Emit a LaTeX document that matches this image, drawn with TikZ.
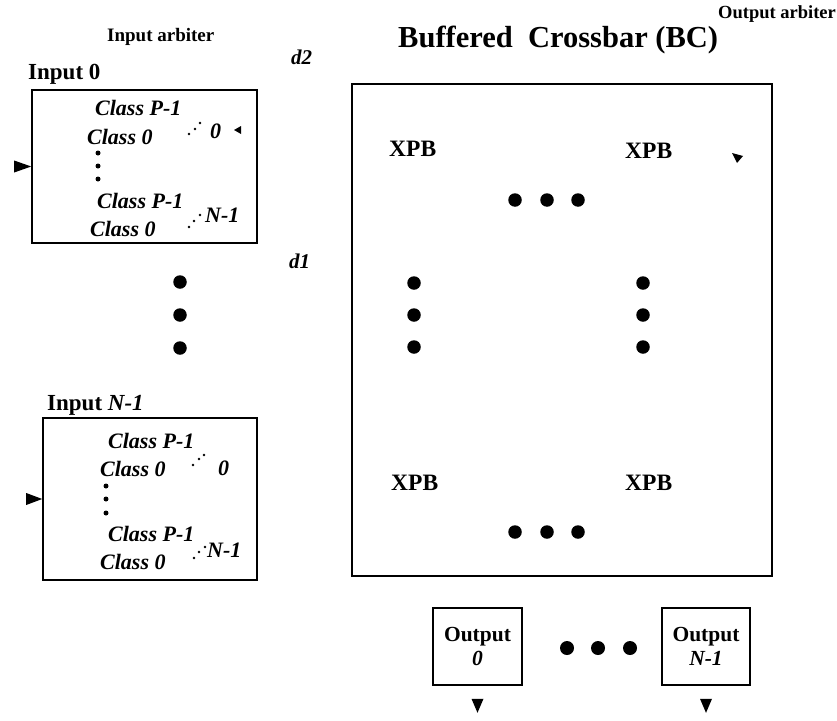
\documentclass[tikz,border=0pt]{standalone}
\usepackage{fontspec}
\setmainfont{Liberation Serif}
\usetikzlibrary{calc}

\tikzset{
  txt/.style={inner sep=0pt, anchor=base west},
  bold/.style={txt, font=\bfseries\fontsize{20}{24}\selectfont},
  bital/.style={txt, font=\bfseries\itshape\fontsize{22}{26}\selectfont},
  xpb/.style={txt, font=\bfseries\fontsize{23.5}{27}\selectfont},
  frame/.style={draw, line width=1.6pt, inner sep=0pt},
  bigdot/.style={circle, fill, inner sep=0pt, minimum size=13.5pt},
  smalldot/.style={circle, fill, inner sep=0pt, minimum size=5pt},
  tinydot/.style={circle, fill, inner sep=0pt, minimum size=2.6pt},
  outbox/.style={frame, minimum height=77pt, align=center,
                 font=\bfseries\fontsize{21.5}{24}\selectfont},
}

\begin{document}
\begin{tikzpicture}[x=1pt, y=-1pt]
\useasboundingbox (0,0) rectangle (837,720);

% headings
\node[bold, font=\bfseries\fontsize{19}{23}\selectfont] (inarb) at (107,41) {Input arbiter};
\node[bold, font=\bfseries\fontsize{18.5}{22}\selectfont] (outarb) at (718,18) {Output arbiter};
\node[bold, font=\bfseries\fontsize{30.5}{35}\selectfont] (bctitle) at (398,47) {Buffered\ \ Crossbar (BC)};
\node[bital, font=\bfseries\itshape\fontsize{21}{25}\selectfont] (dtwo) at (291,64) {d2};
\node[bital, font=\bfseries\itshape\fontsize{21}{25}\selectfont] (done) at (289,268) {d1};

% ---------- input 0 ----------
\node[bold, font=\bfseries\fontsize{23}{27}\selectfont] (inzero) at (28,79) {Input 0};
\node[frame, minimum width=225pt, minimum height=153pt] (boxa) at (144.5,166.5) {};
\node[bital] (a1) at (95,115) {Class P-1};
\node[bital] (a2) at (87,144) {Class 0};
\node[bital] (a3) at (210,138) {0};
\node[bital] (a4) at (97,208) {Class P-1};
\node[bital] (a5) at (90,236) {Class 0};
\node[bital] (a6) at (205,222) {N-1};
\node[smalldot] (ad1) at (98,153) {};
\node[smalldot] (ad2) at (98,166) {};
\node[smalldot] (ad3) at (98,179) {};
\node[tinydot] at (189,134) {};
\node[tinydot] at (195,129) {};
\node[tinydot] at (200,123) {};
\node[tinydot] at (189,227) {};
\node[tinydot] at (194,221) {};
\node[tinydot] at (200,215) {};
% feed arrow and small arbiter pointer
\fill ($(boxa.west)+(-17,-6)$) -- ($(boxa.west)+(0,0)$) -- ($(boxa.west)+(-17,6)$) -- cycle;
\fill (234,130) -- (241,126) -- (241,134) -- cycle;

% dots between inputs
\node[bigdot] (v1) at (180,282) {};
\node[bigdot] (v2) at (180,315) {};
\node[bigdot] (v3) at (180,348) {};

% ---------- input N-1 ----------
\node[txt, font=\bfseries\fontsize{23}{27}\selectfont] (inlast) at (47,410) {Input \textit{N-1}};
\node[frame, minimum width=214pt, minimum height=162pt] (boxb) at (150,499) {};
\node[bital] (b1) at (108,448) {Class P-1};
\node[bital] (b2) at (100,476) {Class 0};
\node[bital] (b3) at (218,475) {0};
\node[bital] (b4) at (108,541) {Class P-1};
\node[bital] (b5) at (100,569) {Class 0};
\node[bital] (b6) at (207,557) {N-1};
\node[smalldot] (bd1) at (106,486) {};
\node[smalldot] (bd2) at (106,499) {};
\node[smalldot] (bd3) at (106,513) {};
\node[tinydot] at (193,465) {};
\node[tinydot] at (199,459) {};
\node[tinydot] at (204,455) {};
\node[tinydot] at (194,558) {};
\node[tinydot] at (199,552) {};
\node[tinydot] at (205,547) {};
\fill ($(boxb.west)+(-16,-6)$) -- ($(boxb.west)+(0,0)$) -- ($(boxb.west)+(-16,6)$) -- cycle;

% ---------- buffered crossbar ----------
\node[frame, minimum width=420pt, minimum height=492pt] (bc) at (562,330) {};
\node[xpb] (xtl) at (389,156) {XPB};
\node[xpb] (xtr) at (625,158) {XPB};
\node[xpb] (xbl) at (391,490) {XPB};
\node[xpb] (xbr) at (625,490) {XPB};
\fill (732,153) -- (743,156) -- (737,163) -- cycle;
\node[bigdot] at (515,200) {};
\node[bigdot] at (547,200) {};
\node[bigdot] at (578,200) {};
\node[bigdot] at (414,283) {};
\node[bigdot] at (414,315) {};
\node[bigdot] at (414,347) {};
\node[bigdot] at (643,283) {};
\node[bigdot] at (643,315) {};
\node[bigdot] at (643,347) {};
\node[bigdot] at (515,532) {};
\node[bigdot] at (547,532) {};
\node[bigdot] at (578,532) {};

% ---------- outputs ----------
\node[outbox, minimum width=89pt] (outa) at (477.5,646.5) {Output\\\textit{0}};
\node[outbox, minimum width=88pt] (outb) at (706,646.5) {Output\\\textit{N-1}};
\node[bigdot, minimum size=14pt] at (567,648) {};
\node[bigdot, minimum size=14pt] at (598,648) {};
\node[bigdot, minimum size=14pt] at (630,648) {};
\fill ($(outa.south)+(-6,13)$) -- ($(outa.south)+(6,13)$) -- ($(outa.south)+(0,27)$) -- cycle;
\fill ($(outb.south)+(-6,13)$) -- ($(outb.south)+(6,13)$) -- ($(outb.south)+(0,27)$) -- cycle;
\end{tikzpicture}
\end{document}
